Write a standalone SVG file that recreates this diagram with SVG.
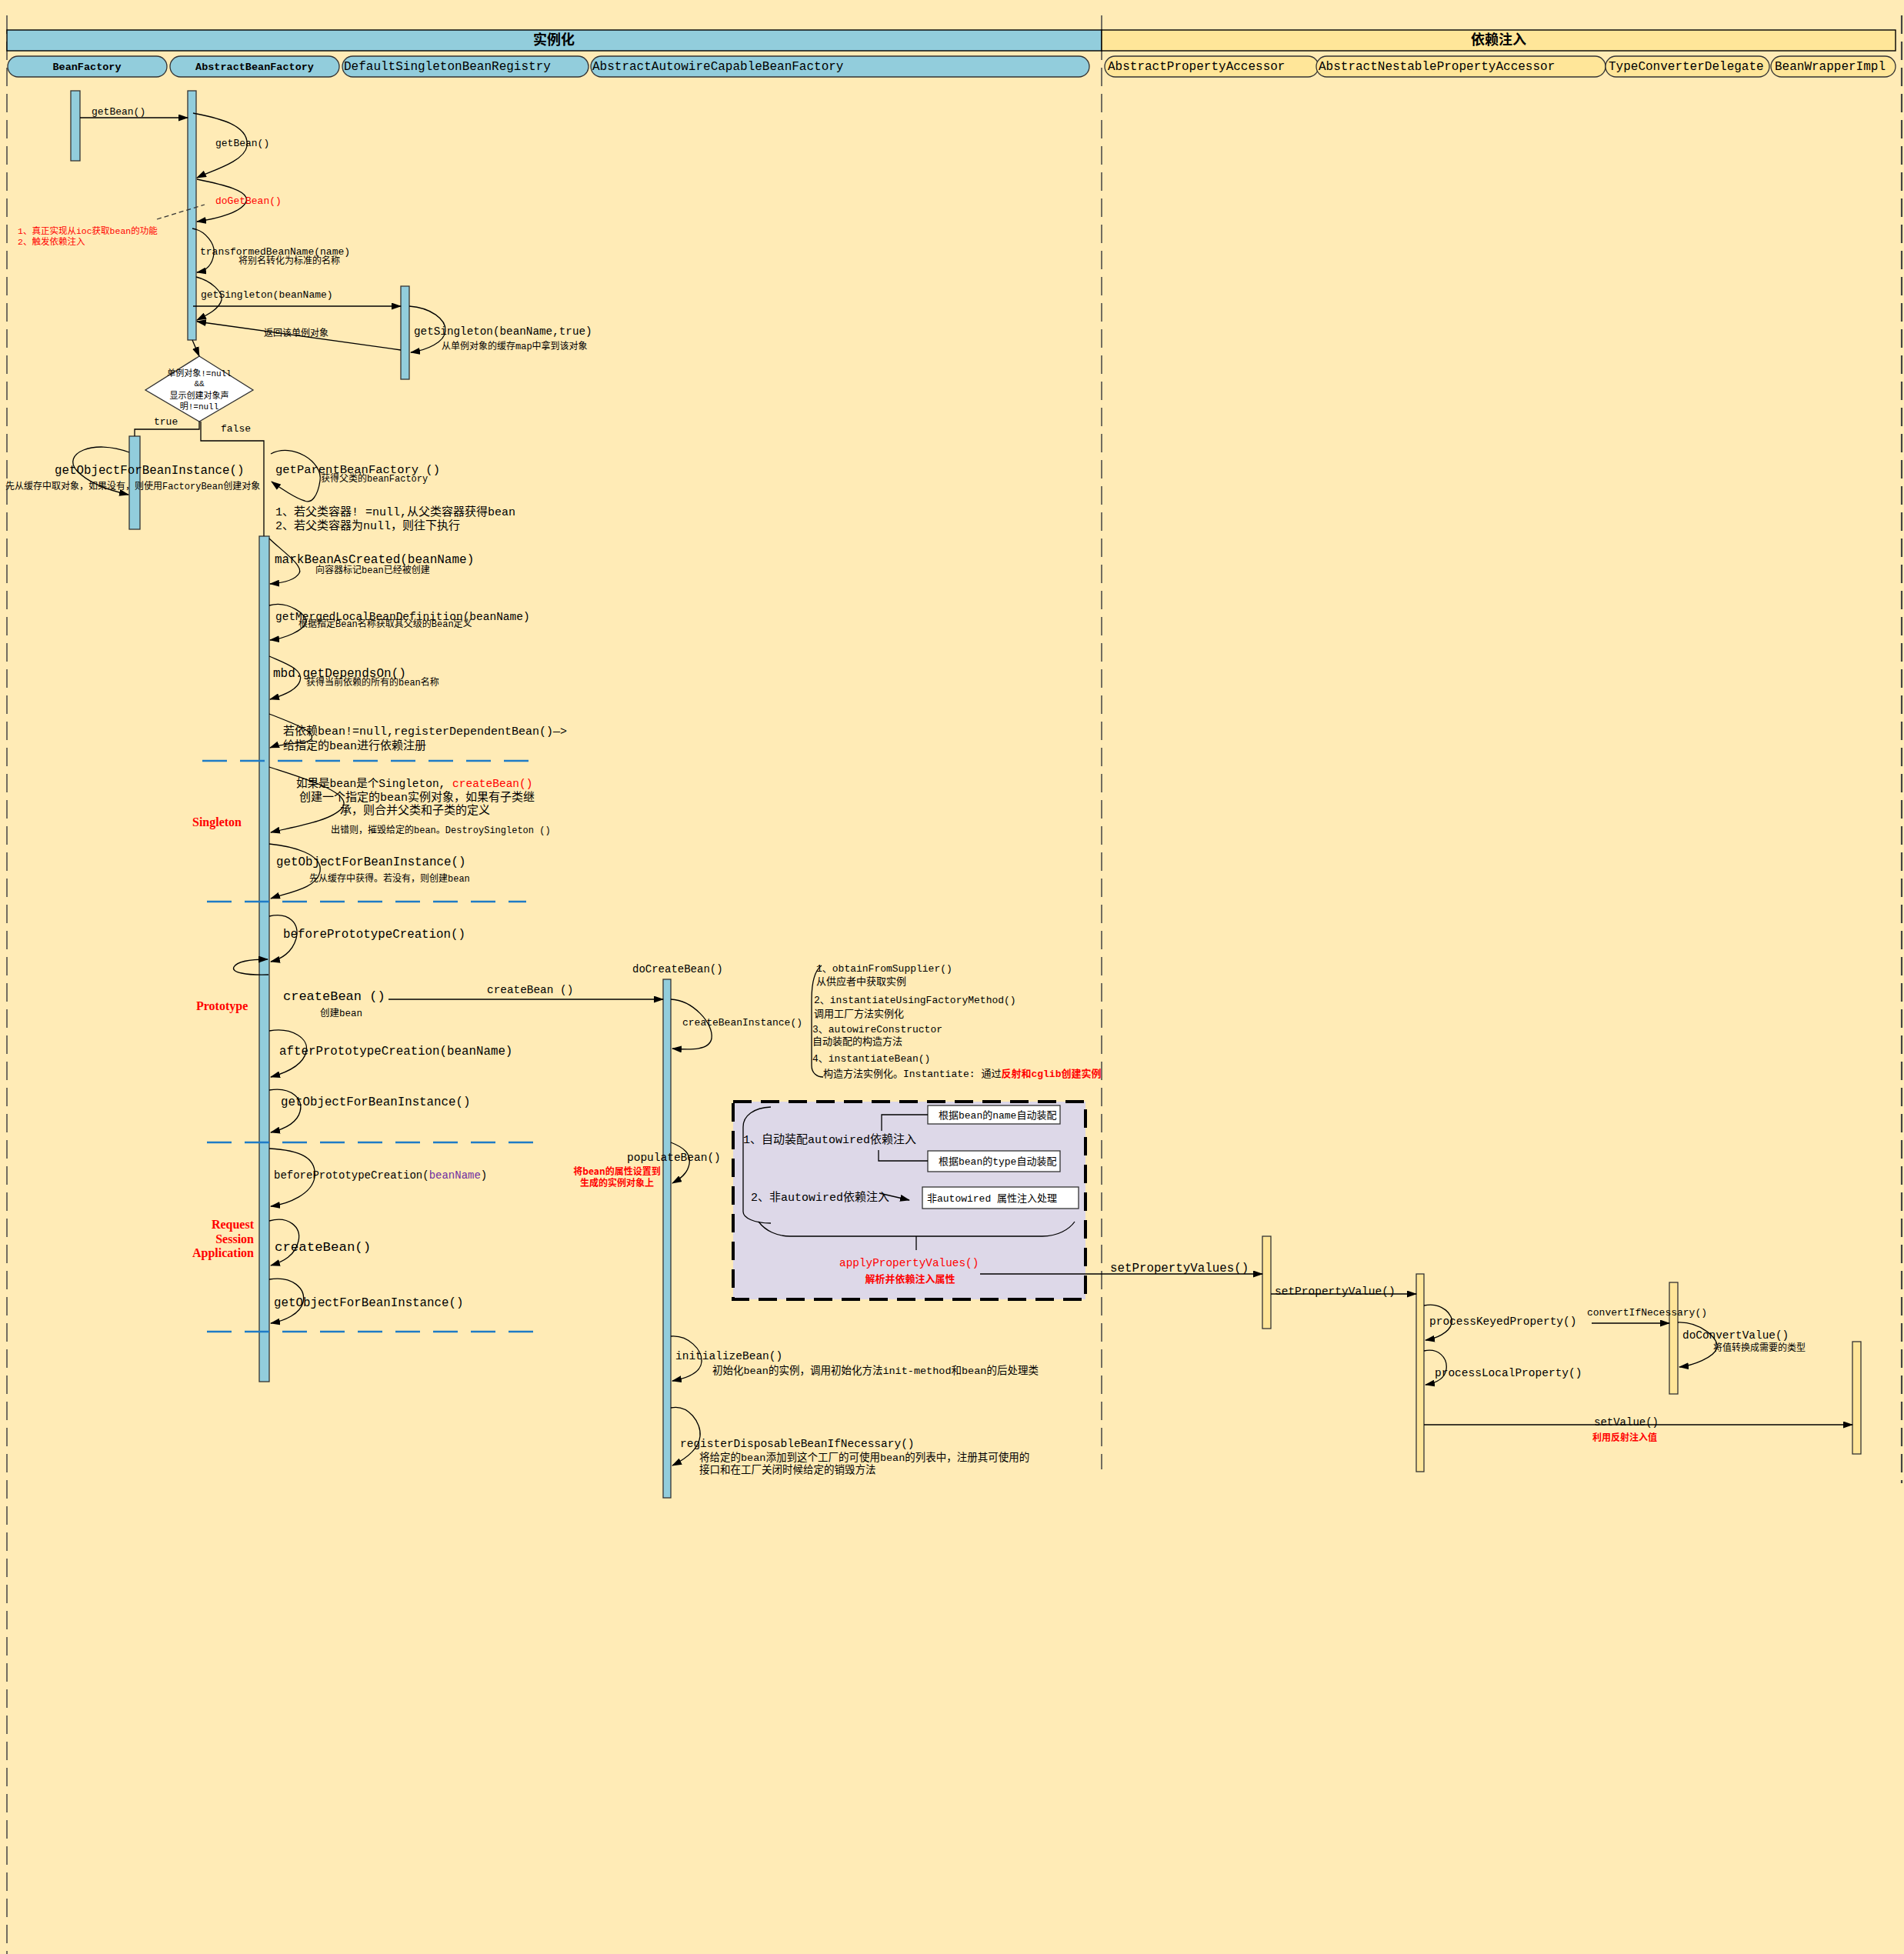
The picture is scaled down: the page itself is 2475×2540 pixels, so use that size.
<svg xmlns="http://www.w3.org/2000/svg" width="2475" height="2540" viewBox="0 0 2475 2540">
<defs>
<marker id="ah" markerWidth="13" markerHeight="9" refX="12" refY="4.5" orient="auto" markerUnits="userSpaceOnUse"><path d="M0,0 L13,4.5 L0,9 z" fill="#000"/></marker>
<style>
.laneB{fill:#92CDDC;stroke:#000;stroke-width:1.4}
.laneY{fill:#FFE699;stroke:#000;stroke-width:1.4}
.pillB{fill:#92CDDC;stroke:#333;stroke-width:1.3}
.pillY{fill:#FFE699;stroke:#333;stroke-width:1.3}
.barB{fill:#92CDDC;stroke:#333;stroke-width:1.3}
.barY{fill:#FFE699;stroke:#333;stroke-width:1.3}
.msg{fill:none;stroke:#000;stroke-width:1.3;marker-end:url(#ah)}
.ln{fill:none;stroke:#000;stroke-width:1.3}
.sep{stroke:#1E7BC6;stroke-width:2.6;stroke-dasharray:32 17;fill:none}
.frame{stroke:#444;stroke-width:1.5;stroke-dasharray:24 10;fill:none}
.t{font-family:'Liberation Mono','Noto Sans CJK SC',monospace;fill:#000}
.c{font-family:'Noto Sans CJK SC',sans-serif;fill:#000}
.r{fill:#FF0000}
.p{fill:#7030A0}
.b{font-weight:bold}
.sr{font-family:'Liberation Serif','Noto Sans CJK SC',serif;font-weight:bold;fill:#FF0000;font-size:16px}
.box{fill:#fff;stroke:#333;stroke-width:1.3}
</style>
</defs>
<rect x="0" y="0" width="2475" height="2540" fill="#FFEBB6"/>
<g id="frame">
<line class="frame" x1="9" y1="20" x2="9" y2="2540"/>
<line class="frame" x1="1432" y1="20" x2="1432" y2="1910"/>
<line class="frame" x1="2472" y1="20" x2="2472" y2="1928" style="stroke-width:2.2"/>
</g>
<g id="lane-instantiate">
<rect class="laneB" x="9" y="39" width="1423" height="27"/>
<text class="c b" x="720" y="58" font-size="18" text-anchor="middle">实例化</text>
</g>
<g id="lane-di">
<rect class="laneY" x="1432" y="39" width="1032" height="27"/>
<text class="c b" x="1948" y="58" font-size="18" text-anchor="middle">依赖注入</text>
</g>
<g id="hdr-BeanFactory"><rect class="pillB" x="10" y="73" width="207" height="27" rx="13.5"/><text class="t b" x="113" y="91" font-size="13.5" text-anchor="middle">BeanFactory</text></g>
<g id="hdr-AbstractBeanFactory"><rect class="pillB" x="221" y="73" width="220" height="27" rx="13.5"/><text class="t b" x="331" y="91" font-size="13.5" text-anchor="middle">AbstractBeanFactory</text></g>
<g id="hdr-DefaultSingletonBeanRegistry"><rect class="pillB" x="445" y="73" width="320" height="27" rx="13.5"/><text class="t" x="447" y="91" font-size="16">DefaultSingletonBeanRegistry</text></g>
<g id="hdr-AbstractAutowireCapableBeanFactory"><rect class="pillB" x="768" y="73" width="648" height="27" rx="13.5"/><text class="t" x="770" y="91" font-size="16">AbstractAutowireCapableBeanFactory</text></g>
<g id="hdr-AbstractPropertyAccessor"><rect class="pillY" x="1436" y="73" width="278" height="27" rx="13.5"/><text class="t" x="1440" y="91" font-size="16">AbstractPropertyAccessor</text></g>
<g id="hdr-AbstractNestablePropertyAccessor"><rect class="pillY" x="1711" y="73" width="376" height="27" rx="13.5"/><text class="t" x="1714" y="91" font-size="16">AbstractNestablePropertyAccessor</text></g>
<g id="hdr-TypeConverterDelegate"><rect class="pillY" x="2087" y="73" width="213" height="27" rx="13.5"/><text class="t" x="2091" y="91" font-size="16">TypeConverterDelegate</text></g>
<g id="hdr-BeanWrapperImpl"><rect class="pillY" x="2302" y="73" width="162" height="27" rx="13.5"/><text class="t" x="2307" y="91" font-size="16">BeanWrapperImpl</text></g>

<g id="bar-bf"><rect class="barB" x="92" y="118" width="12" height="91"/></g>
<g id="bar-abf1"><rect class="barB" x="244" y="118" width="11" height="324"/></g>
<g id="bar-dsbr"><rect class="barB" x="521" y="372" width="11" height="121"/></g>
<g id="bar-abf-true"><rect class="barB" x="168" y="567" width="14" height="121"/></g>
<g id="bar-abf2"><rect class="barB" x="337" y="697" width="13" height="1099"/></g>
<g id="bar-aacbf"><rect class="barB" x="862" y="1273" width="10" height="674"/></g>
<g id="bar-apa"><rect class="barY" x="1641" y="1607" width="11" height="120"/></g>
<g id="bar-anpa"><rect class="barY" x="1841" y="1656" width="10" height="257"/></g>
<g id="bar-tcd"><rect class="barY" x="2170" y="1667" width="11" height="145"/></g>
<g id="bar-bwi"><rect class="barY" x="2408" y="1744" width="11" height="146"/></g>

<g id="decision">
<polygon points="259,463 329,507 259,548 189,507" fill="#fff" stroke="#333" stroke-width="1.3"/>
<text class="t" x="259" y="489" font-size="11" text-anchor="middle">单例对象!=null</text>
<text class="t" x="259" y="502" font-size="11" text-anchor="middle">&amp;&amp;</text>
<text class="t" x="259" y="518" font-size="11" text-anchor="middle">显示创建对象声</text>
<text class="t" x="259" y="532" font-size="11" text-anchor="middle">明!=null</text>
</g>

<g id="autowire-box">
<rect x="953" y="1432" width="458" height="257" fill="#DDD8E8" stroke="#000" stroke-width="4" stroke-dasharray="24 12"/>
<path class="ln" d="M1002 1439 C980 1440 966 1450 966 1465 L966 1575 C966 1583 980 1590 1002 1590"/>
<path class="ln" d="M986 1588 C995 1600 1010 1607 1027 1607 L1355 1607 C1375 1607 1390 1598 1397 1588"/>
<line class="ln" x1="1191" y1="1607" x2="1191" y2="1625"/>
<text class="t" x="966" y="1486" font-size="15">1、自动装配autowired依赖注入</text>
<text class="t" x="976" y="1561" font-size="15">2、非autowired依赖注入</text>
<text class="t r" x="1091" y="1646" font-size="14.4">applyPropertyValues()</text>
<text class="c r b" x="1183" y="1667" font-size="13" text-anchor="middle">解析并依赖注入属性</text>
</g>
<g id="box-name"><rect class="box" x="1206" y="1437" width="172" height="24"/><text class="t" x="1220" y="1454" font-size="13">根据bean的name自动装配</text></g>
<g id="box-type"><rect class="box" x="1206" y="1496" width="172" height="27"/><text class="t" x="1220" y="1514" font-size="13">根据bean的type自动装配</text></g>
<g id="box-nonautowired"><rect class="box" x="1199" y="1543" width="203" height="28"/><text class="t" x="1205" y="1562" font-size="13">非autowired 属性注入处理</text></g>

<g id="connectors">
<line class="msg" x1="104" y1="153" x2="244" y2="153"/>
<path class="msg" d="M251 147 C275 152 325 160 321 190 C318 210 275 222 256 231"/>
<path class="msg" d="M256 233 C290 240 325 248 320 262 C315 275 285 284 256 288"/>
<line x1="204" y1="285" x2="266" y2="266" stroke="#333" stroke-width="1.3" stroke-dasharray="6 4"/>
<path class="msg" d="M250 297 C268 300 280 318 278 330 C276 345 268 352 256 354"/>
<path class="msg" d="M255 360 C275 365 290 380 288 390 C285 402 268 410 256 416"/>
<line class="msg" x1="251" y1="398" x2="521" y2="398"/>
<line class="msg" x1="521" y1="455" x2="256" y2="418"/>
<path class="msg" d="M532 398 C560 400 580 415 579 430 C578 445 555 455 534 458"/>
<line class="msg" x1="250" y1="442" x2="259" y2="463"/>
<polyline class="ln" points="259,548 259,558 175,558 175,567"/>
<polyline class="ln" points="261,548 261,573 343,573 343,697"/>
<path class="msg" d="M168 588 C120 570 80 590 100 612 C115 628 140 637 167 643"/>
<path class="msg" d="M352 590 C380 575 420 600 416 625 C413 645 405 655 396 651 C385 648 365 635 353 626"/>
<path class="msg" d="M350 700 C365 715 395 735 389 745 C383 755 365 758 351 759"/>
<path class="msg" d="M350 787 C375 780 400 800 398 808 C395 820 370 830 351 832"/>
<path class="msg" d="M350 853 C370 862 395 870 390 885 C386 898 365 905 351 909"/>
<path class="msg" d="M350 928 C375 938 410 950 405 960 C400 968 370 965 351 972"/>
<line class="sep" x1="263" y1="989" x2="689" y2="989"/>
<path class="msg" d="M350 997 C390 1010 460 1030 445 1050 C430 1068 380 1075 352 1082"/>
<path class="msg" d="M350 1097 C380 1100 420 1110 416 1133 C412 1155 375 1160 352 1168"/>
<line class="sep" x1="269" y1="1172" x2="684" y2="1172"/>
<path class="msg" d="M350 1191 C375 1185 390 1200 385 1220 C380 1238 365 1247 352 1250"/>
<path class="msg" d="M349 1267 C320 1268 300 1264 304 1257 C308 1250 325 1247 348 1247"/>
<line class="msg" x1="505" y1="1299" x2="862" y2="1299"/>
<path class="msg" d="M350 1340 C380 1335 402 1350 398 1367 C394 1385 370 1395 352 1400"/>
<path class="msg" d="M350 1417 C380 1412 395 1430 390 1445 C386 1460 368 1468 352 1472"/>
<line class="sep" x1="269" y1="1485" x2="698" y2="1485"/>
<path class="msg" d="M350 1493 C390 1495 412 1505 409 1530 C406 1552 375 1565 352 1568"/>
<path class="msg" d="M350 1587 C375 1580 392 1595 388 1613 C384 1632 368 1640 352 1645"/>
<path class="msg" d="M350 1663 C380 1658 398 1675 394 1693 C390 1708 370 1717 352 1720"/>
<line class="sep" x1="269" y1="1731" x2="698" y2="1731"/>
<path class="msg" d="M872 1299 C900 1300 928 1330 925 1350 C922 1365 900 1365 874 1363"/>
<path class="ln" d="M1068 1255 C1058 1262 1055 1280 1055 1300 L1055 1385 C1055 1395 1062 1400 1070 1400"/>
<polyline class="ln" points="1146,1470 1146,1449 1206,1449"/>
<polyline class="ln" points="1142,1495 1142,1509 1206,1509"/>
<line class="msg" x1="1143" y1="1551" x2="1182" y2="1560"/>
<path class="msg" d="M872 1485 C890 1492 898 1500 896 1513 C894 1525 885 1532 874 1538"/>
<path class="msg" d="M872 1737 C895 1735 913 1755 912 1770 C911 1785 890 1792 874 1795"/>
<path class="msg" d="M872 1830 C895 1825 912 1850 910 1867 C908 1885 888 1898 874 1905"/>
<line class="msg" x1="1274" y1="1656" x2="1641" y2="1656"/>
<line class="msg" x1="1652" y1="1682" x2="1841" y2="1682"/>
<path class="msg" d="M1851 1697 C1875 1692 1890 1710 1887 1720 C1884 1733 1866 1740 1853 1742"/>
<path class="msg" d="M1851 1756 C1870 1752 1882 1765 1880 1780 C1878 1793 1865 1798 1853 1800"/>
<line class="msg" x1="2069" y1="1720" x2="2170" y2="1720"/>
<path class="msg" d="M2181 1719 C2210 1718 2235 1740 2232 1752 C2228 1765 2200 1775 2183 1777"/>
<line class="msg" x1="1851" y1="1852" x2="2408" y2="1852"/>
</g>

<g id="labels">
<text class="t" x="119" y="149" font-size="13">getBean()</text>
<text class="t" x="280" y="190" font-size="13">getBean()</text>
<text class="t r" x="280" y="265" font-size="13">doGetBean()</text>
<text class="t r" x="23" y="304" font-size="11.5">1、真正实现从ioc获取bean的功能</text>
<text class="t r" x="23" y="318" font-size="11.5">2、触发依赖注入</text>
<text class="t" x="260" y="331" font-size="13">transformedBeanName(name)</text>
<text class="t" x="310" y="343" font-size="12">将别名转化为标准的名称</text>
<text class="t" x="261" y="387" font-size="13">getSingleton(beanName)</text>
<text class="t" x="343" y="437" font-size="12">返回该单例对象</text>
<text class="t" x="538" y="435" font-size="14.3">getSingleton(beanName,true)</text>
<text class="t" x="574" y="454" font-size="12">从单例对象的缓存map中拿到该对象</text>
<text class="t" x="200" y="552" font-size="13">true</text>
<text class="t" x="287" y="561" font-size="13">false</text>
<text class="t" x="71" y="616" font-size="15.8">getObjectForBeanInstance()</text>
<text class="t" x="7" y="636" font-size="12">先从缓存中取对象，如果没有，则使用FactoryBean创建对象</text>
<text class="t" x="358" y="615" font-size="15.5">getParentBeanFactory ()</text>
<text class="t" x="417" y="626" font-size="12">获得父类的beanFactory</text>
<text class="t" x="358" y="670" font-size="15">1、若父类容器! =null,从父类容器获得bean</text>
<text class="t" x="358" y="688" font-size="15">2、若父类容器为null，则往下执行</text>
<text class="t" x="357" y="732" font-size="16">markBeanAsCreated(beanName)</text>
<text class="t" x="410" y="745" font-size="12">向容器标记bean已经被创建</text>
<text class="t" x="358" y="806" font-size="14.5">getMergedLocalBeanDefinition(beanName)</text>
<text class="t" x="388" y="815" font-size="12">根据指定Bean名称获取其父级的Bean定义</text>
<text class="t" x="355" y="880" font-size="16">mbd.getDependsOn()</text>
<text class="t" x="398" y="891" font-size="12">获得当前依赖的所有的bean名称</text>
<text class="t" x="368" y="955" font-size="15">若依赖bean!=null,registerDependentBean()—&gt;</text>
<text class="t" x="368" y="974" font-size="15">给指定的bean进行依赖注册</text>
<text class="sr" x="250" y="1074">Singleton</text>
<text class="t" x="385" y="1023" font-size="14.5">如果是bean是个Singleton, <tspan class="r">createBean()</tspan></text>
<text class="t" x="389" y="1041" font-size="15">创建一个指定的bean实例对象，如果有子类继</text>
<text class="t" x="442" y="1058" font-size="15">承，则合并父类和子类的定义</text>
<text class="t" x="430" y="1083" font-size="12">出错则，摧毁给定的bean。DestroySingleton ()</text>
<text class="t" x="359" y="1125" font-size="15.8">getObjectForBeanInstance()</text>
<text class="t" x="402" y="1146" font-size="12">先从缓存中获得。若没有，则创建bean</text>
<text class="t" x="368" y="1219" font-size="15.8">beforePrototypeCreation()</text>
<text class="sr" x="255" y="1313">Prototype</text>
<text class="t" x="368" y="1300" font-size="17">createBean ()</text>
<text class="t" x="416" y="1321" font-size="12.5">创建bean</text>
<text class="t" x="633" y="1291" font-size="14.4">createBean ()</text>
<text class="t" x="363" y="1371" font-size="15.8">afterPrototypeCreation(beanName)</text>
<text class="t" x="365" y="1437" font-size="15.8">getObjectForBeanInstance()</text>
<text class="t" x="356" y="1532" font-size="14">beforePrototypeCreation(<tspan class="p">beanName</tspan>)</text>
<text class="sr" x="330" y="1597" text-anchor="end">Request</text>
<text class="sr" x="330" y="1616" text-anchor="end">Session</text>
<text class="sr" x="330" y="1634" text-anchor="end">Application</text>
<text class="t" x="357" y="1626" font-size="17.4">createBean()</text>
<text class="t" x="356" y="1698" font-size="15.8">getObjectForBeanInstance()</text>
<text class="t" x="822" y="1264" font-size="14">doCreateBean()</text>
<text class="t" x="887" y="1333" font-size="13">createBeanInstance()</text>
<text class="t" x="1061" y="1263" font-size="13">1、obtainFromSupplier()</text>
<text class="t" x="1061" y="1280" font-size="13">从供应者中获取实例</text>
<text class="t" x="1058" y="1304" font-size="13">2、instantiateUsingFactoryMethod()</text>
<text class="t" x="1058" y="1322" font-size="13">调用工厂方法实例化</text>
<text class="t" x="1056" y="1342" font-size="13">3、autowireConstructor</text>
<text class="t" x="1056" y="1358" font-size="13">自动装配的构造方法</text>
<text class="t" x="1056" y="1380" font-size="13">4、instantiateBean()</text>
<text class="t" x="1070" y="1400" font-size="13">构造方法实例化。Instantiate: 通过<tspan class="r b">反射和cglib创建实例</tspan></text>
<text class="t" x="815" y="1509" font-size="14.5">populateBean()</text>
<text class="c r b" x="802" y="1527" font-size="12" text-anchor="middle">将bean的属性设置到</text>
<text class="c r b" x="802" y="1542" font-size="12" text-anchor="middle">生成的实例对象上</text>
<text class="t" x="878" y="1767" font-size="14.5">initializeBean()</text>
<text class="t" x="926" y="1786" font-size="13.5">初始化bean的实例，调用初始化方法init-method和bean的后处理类</text>
<text class="t" x="884" y="1881" font-size="14.5">registerDisposableBeanIfNecessary()</text>
<text class="t" x="909" y="1899" font-size="13.5">将给定的bean添加到这个工厂的可使用bean的列表中，注册其可使用的</text>
<text class="t" x="909" y="1915" font-size="13.5">接口和在工厂关闭时候给定的销毁方法</text>
<text class="t" x="1443" y="1653" font-size="15.8">setPropertyValues()</text>
<text class="t" x="1657" y="1683" font-size="14.5">setPropertyValue()</text>
<text class="t" x="1858" y="1722" font-size="14.5">processKeyedProperty()</text>
<text class="t" x="1865" y="1789" font-size="14.5">processLocalProperty()</text>
<text class="t" x="2063" y="1710" font-size="13">convertIfNecessary()</text>
<text class="t" x="2187" y="1740" font-size="14.4">doConvertValue()</text>
<text class="t" x="2227" y="1756" font-size="12">将值转换成需要的类型</text>
<text class="t" x="2072" y="1853" font-size="14">setValue()</text>
<text class="c r b" x="2070" y="1873" font-size="12">利用反射注入值</text>
</g>
</svg>
